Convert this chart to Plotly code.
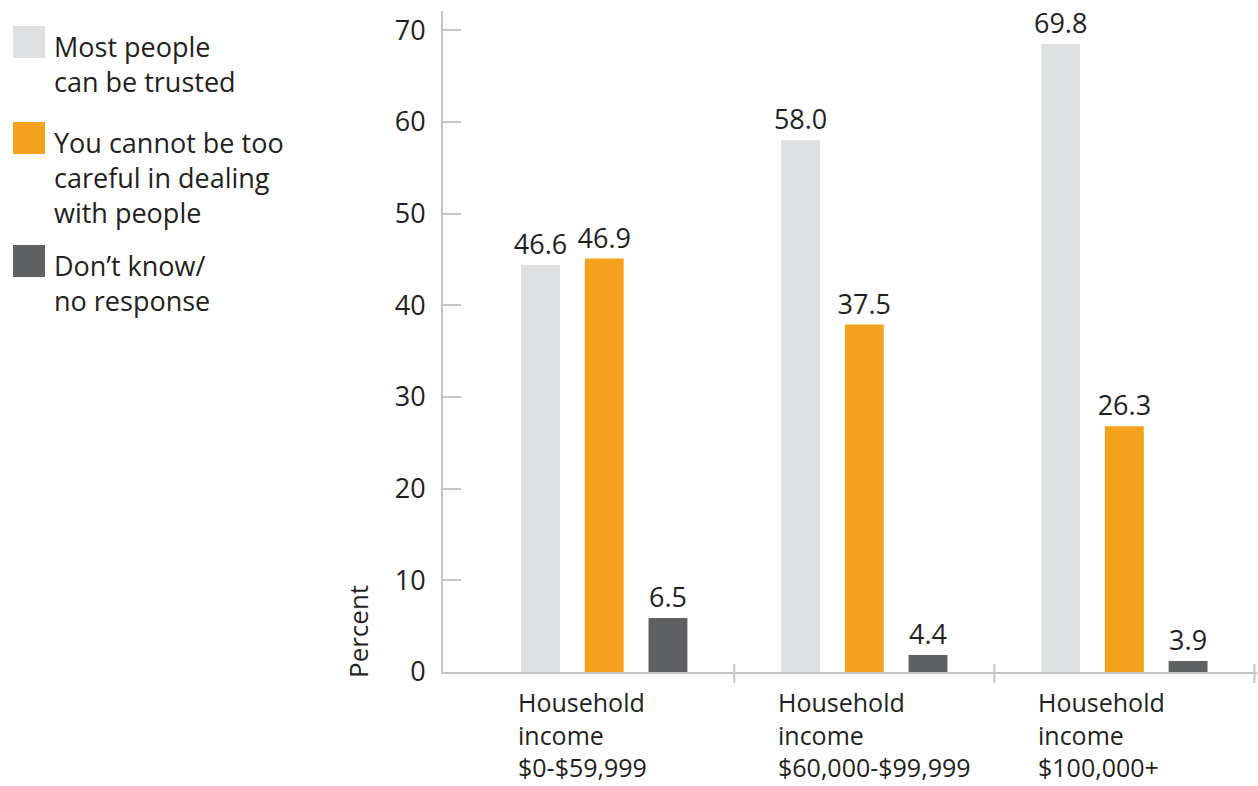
import plotly.graph_objects as go

categories = ["Household<br>income<br>$0-$59,999",
              "Household<br>income<br>$60,000-$99,999",
              "Household<br>income<br>$100,000+"]
series_names = ["Most people<br>can be trusted",
                "You cannot be too<br>careful in dealing<br>with people",
                "Don\u2019t know/<br>no response"]
# bar heights as drawn in the picture
trusted = [44.4, 58.0, 68.5]
careful = [45.1, 37.9, 26.8]
dont_know = [5.9, 1.85, 1.2]
# printed value labels
trusted_lbl = ["46.6", "58.0", "69.8"]
careful_lbl = ["46.9", "37.5", "26.3"]
dont_know_lbl = ["6.5", "4.4", "3.9"]
y_ticks = [0, 10, 20, 30, 40, 50, 60, 70]

colors = ["#dfe0e1", "#f4a11e", "#5f6062"]
FONT = "Open Sans"
FS = 27
TXT = "#231f20"
AX = "#c4c5c6"

W, H = 1258, 786
L, R, T, B = 443, 1, 11, 114
pw, ph = W - L - R, H - T - B

def px_x(x):
    return (x - L) / pw

def px_y(y):
    return (H - B - y) / ph

fig = go.Figure()
for vals, lbls, name, col in zip([trusted, careful, dont_know],
                                 [trusted_lbl, careful_lbl, dont_know_lbl],
                                 series_names, colors):
    fig.add_trace(go.Bar(x=categories, y=vals, name=name, marker_color=col,
                         marker_line_width=0, text=lbls, textposition="outside",
                         constraintext="none",
                         textfont=dict(size=FS, color=TXT, family=FONT),
                         cliponaxis=False, showlegend=False))

fig.update_layout(
    width=W, height=H,
    margin=dict(l=L, r=R, t=T, b=B),
    paper_bgcolor="white", plot_bgcolor="white",
    barmode="group", bargap=0.265, bargroupgap=0.39,
    font=dict(family=FONT, color=TXT, size=FS),
    xaxis=dict(range=[-0.62, 2.51], showticklabels=False, showgrid=False,
               showline=True, linecolor=AX, linewidth=2, ticks="", zeroline=False),
    yaxis=dict(range=[0, 72.1], tickvals=y_ticks, showgrid=False, zeroline=False,
               showline=True, linecolor=AX, linewidth=2, ticks="inside",
               ticklen=18, tickwidth=2, tickcolor=AX, ticklabelstandoff=10,
               tickfont=dict(size=FS, color=TXT, family=FONT)),
)

# y axis title
fig.add_annotation(text="Percent", textangle=-90, xref="paper", yref="paper",
                   x=px_x(358), y=px_y(632), xanchor="center", yanchor="middle",
                   showarrow=False,
                   font=dict(size=FS - 1, color=TXT, family=FONT))

# category labels (left aligned under the bars)
for i, c in enumerate(categories):
    fig.add_annotation(text=c, x=i - 0.335, xref="x", xanchor="left",
                       y=px_y(684), yref="paper", yanchor="top", align="left",
                       showarrow=False, borderpad=0,
                       font=dict(size=25, color=TXT, family=FONT))

# divider ticks on category axis
for xv in [0.5, 1.5, 2.5]:
    fig.add_shape(type="line", xref="x", yref="paper", x0=xv, x1=xv,
                  y0=px_y(664), y1=px_y(683), line=dict(color=AX, width=2))

# custom legend
legend_tops = [26, 122, 245]
for name, col, top in zip(series_names, colors, legend_tops):
    fig.add_shape(type="rect", xref="paper", yref="paper",
                  x0=px_x(13), x1=px_x(45), y0=px_y(top), y1=px_y(top + 32),
                  fillcolor=col, line_width=0)
    fig.add_annotation(text=name, xref="paper", yref="paper", x=px_x(52),
                       y=px_y(top), xanchor="left", yanchor="top",
                       align="left", showarrow=False,
                       font=dict(size=FS, color=TXT, family=FONT))

fig.write_html("out.html")
